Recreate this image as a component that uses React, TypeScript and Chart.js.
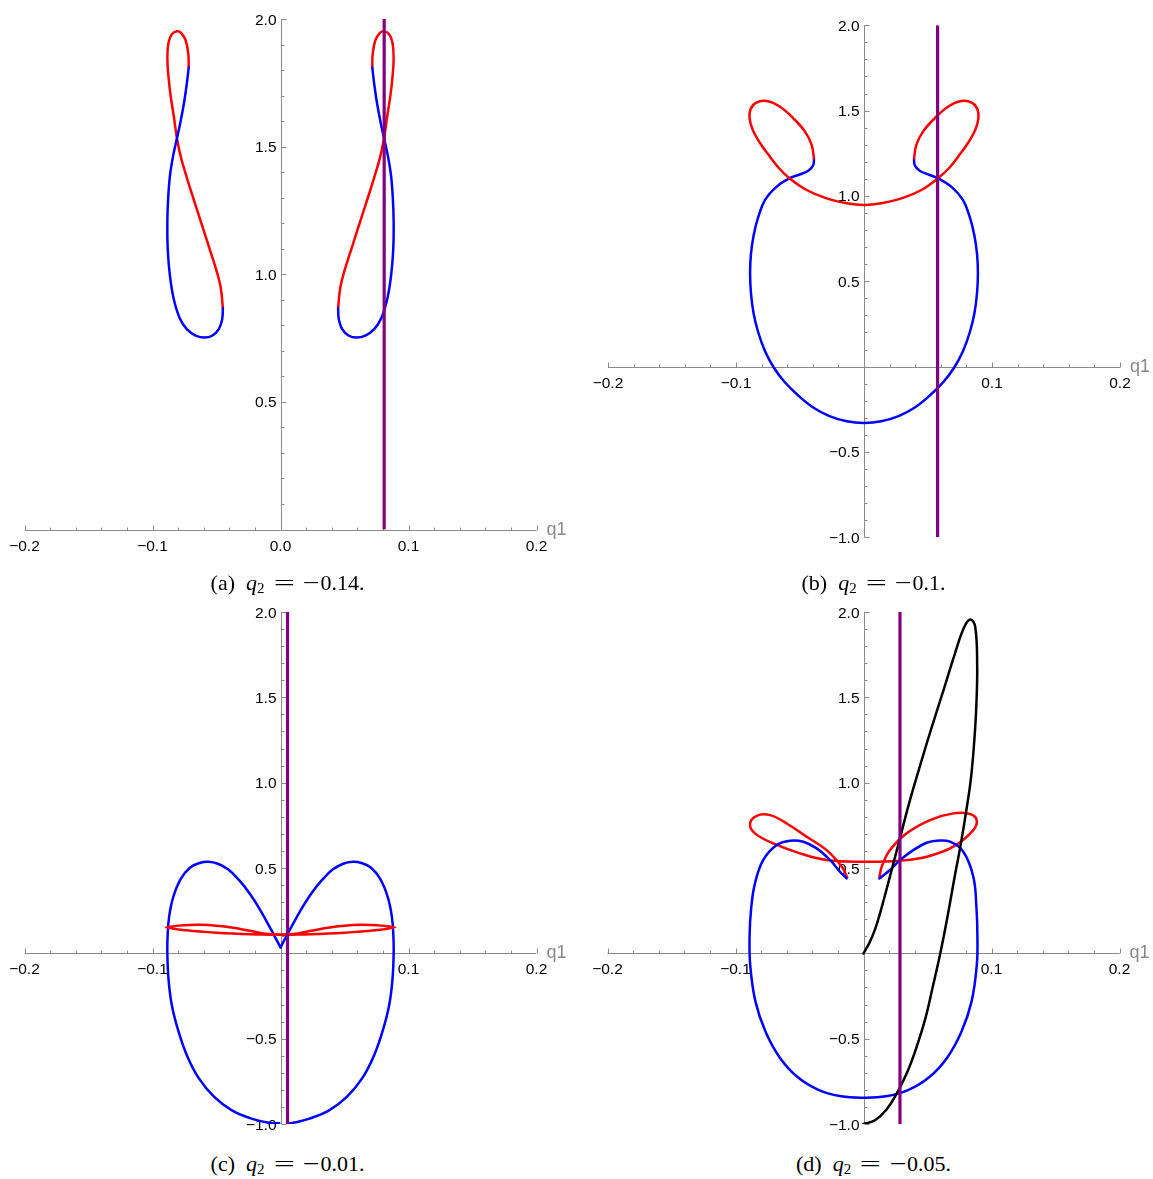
import React, { useEffect, useRef } from "react";
import { Chart, registerables } from "chart.js";

Chart.register(...registerables);

// ---------- Panel (a): q2 = -0.14 ----------
const A_RED_LEFT: number[][] = [
  [-0.0717, 1.81], [-0.072, 1.862], [-0.074, 1.915], [-0.0775, 1.945], [-0.0809, 1.952],
  [-0.0849, 1.94], [-0.0875, 1.907], [-0.0884, 1.847], [-0.0875, 1.773], [-0.0858, 1.698],
  [-0.0835, 1.623], [-0.0809, 1.533], [-0.0778, 1.458], [-0.0726, 1.369], [-0.0669, 1.279],
  [-0.0611, 1.189], [-0.0554, 1.099], [-0.0502, 1.017], [-0.0468, 0.95], [-0.045, 0.868],
];
const A_BLUE_LEFT: number[][] = [
  [-0.045, 0.868], [-0.0456, 0.823], [-0.0482, 0.785], [-0.0531, 0.76], [-0.0594, 0.752],
  [-0.0663, 0.76], [-0.0732, 0.785], [-0.0789, 0.83], [-0.0835, 0.905], [-0.0864, 0.995],
  [-0.0881, 1.099], [-0.0884, 1.204], [-0.0878, 1.294], [-0.0864, 1.384], [-0.0841, 1.458],
  [-0.0809, 1.533], [-0.0783, 1.593], [-0.0755, 1.668], [-0.0735, 1.735], [-0.0717, 1.81],
];
const A_RED_RIGHT: number[][] = [
  [0.0717, 1.81], [0.072, 1.862], [0.074, 1.915], [0.0775, 1.945], [0.0809, 1.952],
  [0.0849, 1.94], [0.0875, 1.907], [0.0884, 1.847], [0.0875, 1.773], [0.0858, 1.698],
  [0.0835, 1.623], [0.0809, 1.533], [0.0778, 1.458], [0.0726, 1.369], [0.0669, 1.279],
  [0.0611, 1.189], [0.0554, 1.099], [0.0502, 1.017], [0.0468, 0.95], [0.045, 0.868],
];
const A_BLUE_RIGHT: number[][] = [
  [0.045, 0.868], [0.0456, 0.823], [0.0482, 0.785], [0.0531, 0.76], [0.0594, 0.752],
  [0.0663, 0.76], [0.0732, 0.785], [0.0789, 0.83], [0.0835, 0.905], [0.0864, 0.995],
  [0.0881, 1.099], [0.0884, 1.204], [0.0878, 1.294], [0.0864, 1.384], [0.0841, 1.458],
  [0.0809, 1.533], [0.0783, 1.593], [0.0755, 1.668], [0.0735, 1.735], [0.0717, 1.81],
];
const A_PURPLE: number[][] = [[0.081, 0], [0.081, 2]];

// ---------- Panel (b): q2 = -0.1 ----------
const B_RED: number[][] = [
  [-0.0391, 1.221], [-0.0409, 1.299], [-0.0461, 1.377], [-0.0552, 1.455], [-0.0656, 1.523],
  [-0.076, 1.557], [-0.0845, 1.546], [-0.0888, 1.505], [-0.0893, 1.45], [-0.0868, 1.385],
  [-0.0815, 1.313], [-0.074, 1.235], [-0.0665, 1.164], [-0.0583, 1.104], [-0.0448, 1.035],
  [-0.0292, 0.986], [-0.0135, 0.957], [0, 0.947], [0.0135, 0.957], [0.0292, 0.986],
  [0.0448, 1.035], [0.0578, 1.104], [0.0665, 1.164], [0.074, 1.235], [0.0815, 1.313],
  [0.0868, 1.385], [0.0893, 1.45], [0.0888, 1.505], [0.0845, 1.546], [0.076, 1.557],
  [0.0656, 1.523], [0.0552, 1.455], [0.0461, 1.377], [0.0409, 1.299], [0.0391, 1.221],
];
const B_BLUE: number[][] = [
  [-0.0391, 1.221], [-0.0396, 1.182], [-0.0435, 1.148], [-0.0513, 1.123], [-0.0583, 1.104],
  [-0.0682, 1.055], [-0.0773, 0.977], [-0.0826, 0.877], [-0.0862, 0.77], [-0.0883, 0.66],
  [-0.089, 0.55], [-0.0883, 0.43], [-0.0862, 0.31], [-0.0826, 0.2], [-0.0773, 0.09],
  [-0.0705, -0.005], [-0.062, -0.09], [-0.052, -0.165], [-0.04, -0.238], [-0.027, -0.29],
  [-0.0135, -0.32], [0, -0.33], [0.0135, -0.32], [0.027, -0.29], [0.04, -0.238],
  [0.052, -0.165], [0.062, -0.09], [0.0705, -0.005], [0.0773, 0.09], [0.0826, 0.2],
  [0.0862, 0.31], [0.0883, 0.43], [0.089, 0.55], [0.0883, 0.66], [0.0862, 0.77],
  [0.0826, 0.877], [0.0773, 0.977], [0.0682, 1.055], [0.0578, 1.104], [0.0513, 1.123],
  [0.0435, 1.148], [0.0396, 1.182], [0.0391, 1.221],
];
const B_PURPLE: number[][] = [[0.0575, -1], [0.0575, 2]];

// ---------- Panel (c): q2 = -0.01 ----------
const C_BLUE_LEFT: number[][] = [
  [-0.001, -0.996], [-0.009, -0.993], [-0.022, -0.97], [-0.038, -0.92], [-0.052, -0.84],
  [-0.064, -0.73], [-0.073, -0.6], [-0.08, -0.45], [-0.085, -0.3], [-0.0875, -0.15],
  [-0.0884, 0.0], [-0.0882, 0.1], [-0.087, 0.215], [-0.0838, 0.33], [-0.078, 0.435],
  [-0.0705, 0.503], [-0.0625, 0.531], [-0.0565, 0.536], [-0.049, 0.525], [-0.041, 0.492],
  [-0.0325, 0.43], [-0.0245, 0.355], [-0.0165, 0.262], [-0.0085, 0.155], [0, 0.035],
];
const C_BLUE_RIGHT: number[][] = [
  [0, 0.035], [0.0085, 0.155], [0.0165, 0.262], [0.0245, 0.355], [0.0325, 0.43],
  [0.041, 0.492], [0.049, 0.525], [0.0565, 0.536], [0.0625, 0.531], [0.0705, 0.503],
  [0.078, 0.435], [0.0838, 0.33], [0.087, 0.215], [0.0882, 0.1], [0.0884, 0.0],
  [0.0875, -0.15], [0.085, -0.3], [0.08, -0.45], [0.073, -0.6], [0.064, -0.73],
  [0.052, -0.84], [0.038, -0.92], [0.022, -0.97], [0.012, -0.99], [0.0075, -0.996],
];
const C_RED_LEFT: number[][] = [
  [0.004, 0.109], [-0.003, 0.11], [-0.0136, 0.117], [-0.024, 0.132], [-0.037, 0.15],
  [-0.05, 0.162], [-0.063, 0.167], [-0.0761, 0.164], [-0.0895, 0.153], [-0.0761, 0.137],
  [-0.063, 0.128], [-0.05, 0.121], [-0.037, 0.116], [-0.024, 0.112], [-0.0136, 0.11],
  [-0.003, 0.109], [0.004, 0.109],
];
const C_RED_RIGHT: number[][] = [
  [-0.004, 0.109], [0.003, 0.11], [0.0136, 0.117], [0.024, 0.132], [0.037, 0.15],
  [0.05, 0.162], [0.063, 0.167], [0.0761, 0.164], [0.0895, 0.153], [0.0761, 0.137],
  [0.063, 0.128], [0.05, 0.121], [0.037, 0.116], [0.024, 0.112], [0.0136, 0.11],
  [0.003, 0.109], [-0.004, 0.109],
];
const C_PURPLE: number[][] = [[0.0055, -1], [0.0055, 2]];

// ---------- Panel (d): q2 = -0.05 ----------
const D_BLUE: number[][] = [
  [-0.0132, 0.439], [-0.0184, 0.478], [-0.0262, 0.547], [-0.0366, 0.615], [-0.047, 0.654],
  [-0.0574, 0.66], [-0.0678, 0.635], [-0.0783, 0.547], [-0.0848, 0.41], [-0.0878, 0.26],
  [-0.089, 0.1], [-0.0885, -0.07], [-0.0845, -0.28], [-0.0765, -0.46], [-0.0655, -0.61],
  [-0.0515, -0.725], [-0.0352, -0.8], [-0.0175, -0.838], [0, -0.846], [0.0175, -0.838],
  [0.0352, -0.8], [0.0515, -0.725], [0.0655, -0.61], [0.0765, -0.46], [0.0845, -0.28],
  [0.0885, -0.07], [0.089, 0.1], [0.0882, 0.273], [0.0858, 0.449], [0.078, 0.595],
  [0.0676, 0.654], [0.0572, 0.66], [0.0494, 0.648], [0.0389, 0.605], [0.0285, 0.546],
  [0.0207, 0.488], [0.0124, 0.439],
];
const D_RED: number[][] = [
  [-0.0127, 0.445], [-0.0169, 0.507], [-0.0288, 0.605], [-0.0444, 0.683], [-0.06, 0.761],
  [-0.073, 0.81], [-0.0835, 0.806], [-0.0887, 0.757], [-0.0848, 0.703], [-0.0705, 0.644],
  [-0.0497, 0.586], [-0.0289, 0.547], [0, 0.537], [0.0289, 0.543], [0.0494, 0.566],
  [0.0702, 0.625], [0.0858, 0.722], [0.0884, 0.781], [0.0832, 0.816], [0.0702, 0.82],
  [0.052, 0.781], [0.0337, 0.703], [0.0207, 0.605], [0.0142, 0.507], [0.0124, 0.445],
];
const D_BLACK: number[][] = [
  [0, 0], [0.0045, 0.06], [0.009, 0.14], [0.0135, 0.25], [0.021, 0.46],
  [0.0285, 0.675], [0.0363, 0.898], [0.045, 1.12], [0.0535, 1.33], [0.062, 1.53],
  [0.0715, 1.758], [0.0787, 1.912], [0.0836, 1.956], [0.0873, 1.912], [0.0888, 1.692],
  [0.0882, 1.46], [0.0865, 1.24], [0.084, 1.03], [0.0806, 0.85], [0.076, 0.64],
  [0.071, 0.44], [0.066, 0.23], [0.06, 0.0], [0.054, -0.2], [0.0484, -0.38],
  [0.041, -0.56], [0.034, -0.7], [0.026, -0.82], [0.018, -0.915], [0.009, -0.978],
  [0, -1.0],
];
const D_PURPLE: number[][] = [[0.0285, -1], [0.0285, 2]];

// ---------- Ticks ----------
const X_MAJOR = [-0.2, -0.1, 0, 0.1, 0.2];
const X_LABELS_A = ["\u22120.2", "\u22120.1", "0.0", "0.1", "0.2"];
const X_LABELS_BCD = ["\u22120.2", "\u22120.1", "", "0.1", "0.2"];
const Y_MAJOR_A = [0.5, 1.0, 1.5, 2.0];
const Y_LABELS_A = ["0.5", "1.0", "1.5", "2.0"];
const Y_MAJOR_BCD = [-1.0, -0.5, 0.5, 1.0, 1.5, 2.0];
const Y_LABELS_BCD = ["\u22121.0", "\u22120.5", "0.5", "1.0", "1.5", "2.0"];
const AXIS_NAME = "q1";

const CAPTIONS = [
  { letter: "a", value: "0.14." },
  { letter: "b", value: "0.1." },
  { letter: "c", value: "0.01." },
  { letter: "d", value: "0.05." },
];

const RED = "#ff0000";
const BLUE = "#0000ff";
const BLACK = "#000000";
const PURPLE = "#800080";
const AXIS_COLOR = "#8a8a8a";

type AxisSpec = {
  xMin: number; xMax: number; yMin: number; yMax: number;
  xLabels: string[]; yMajor: number[]; yLabels: string[];
};

function minorList(min: number, max: number, step: number, majorStep: number): number[] {
  const out: number[] = [];
  const n = Math.round((max - min) / step);
  for (let i = 0; i <= n; i++) {
    const v = min + i * step;
    const r = v / majorStep;
    if (Math.abs(r - Math.round(r)) > 1e-6) out.push(v);
  }
  return out;
}

function axesPlugin(spec: AxisSpec) {
  return {
    id: "mmaAxes",
    beforeDatasetsDraw(chart: any) {
      const ctx = chart.ctx as CanvasRenderingContext2D;
      const xs = chart.scales.x;
      const ys = chart.scales.y;
      const px = (v: number) => xs.getPixelForValue(v);
      const py = (v: number) => ys.getPixelForValue(v);
      const ax = Math.round(px(0)) + 0.5;
      const ay = Math.round(py(0)) + 0.5;
      const MAJ = 5;
      const MIN = 3;
      ctx.save();
      ctx.strokeStyle = AXIS_COLOR;
      ctx.lineWidth = 1;
      ctx.beginPath();
      ctx.moveTo(px(spec.xMin), ay);
      ctx.lineTo(px(spec.xMax), ay);
      ctx.moveTo(ax, py(spec.yMin));
      ctx.lineTo(ax, py(spec.yMax));
      for (const v of X_MAJOR) {
        const p = Math.round(px(v)) + 0.5;
        ctx.moveTo(p, ay);
        ctx.lineTo(p, ay - MAJ);
      }
      for (const v of minorList(spec.xMin, spec.xMax, 0.02, 0.1)) {
        const p = Math.round(px(v)) + 0.5;
        ctx.moveTo(p, ay);
        ctx.lineTo(p, ay - MIN);
      }
      for (const v of spec.yMajor) {
        const p = Math.round(py(v)) + 0.5;
        ctx.moveTo(ax, p);
        ctx.lineTo(ax + MAJ, p);
      }
      for (const v of minorList(spec.yMin, spec.yMax, 0.1, 0.5)) {
        const p = Math.round(py(v)) + 0.5;
        ctx.moveTo(ax, p);
        ctx.lineTo(ax + MIN, p);
      }
      ctx.stroke();

      ctx.fillStyle = "#000";
      ctx.font = '15.5px "Liberation Sans", Arial, sans-serif';
      ctx.textBaseline = "alphabetic";
      ctx.textAlign = "center";
      X_MAJOR.forEach((v, i) => {
        const l = spec.xLabels[i];
        if (l) ctx.fillText(l, px(v), ay + 20);
      });
      ctx.textAlign = "right";
      spec.yMajor.forEach((v, i) => {
        const l = spec.yLabels[i];
        if (l) ctx.fillText(l, ax - 5, py(v) + 5.5);
      });
      ctx.fillStyle = "#888888";
      ctx.textAlign = "left";
      ctx.font = '18px "Liberation Sans", Arial, sans-serif';
      ctx.fillText(AXIS_NAME, px(spec.xMax) + 10, ay + 4);
      ctx.restore();
    },
  };
}

function ds(data: number[][], color: string, width: number, order: number, tension = 0.4) {
  return {
    data: data.map(([x, y]) => ({ x, y })),
    showLine: true,
    borderColor: color,
    backgroundColor: color,
    borderWidth: width,
    pointRadius: 0,
    pointHoverRadius: 0,
    tension,
    fill: false,
    order,
    borderJoinStyle: "round" as const,
    borderCapStyle: "round" as const,
  };
}

function purple(data: number[][]) {
  return { ...ds(data, PURPLE, 3.2, 0, 0), borderCapStyle: "butt" as const };
}

type PanelSpec = {
  left: number; top: number; w: number; h: number;
  pad: { left: number; right: number; top: number; bottom: number };
  axes: AxisSpec;
  datasets: any[];
};

const PANELS: PanelSpec[] = [
  {
    left: 0, top: 0, w: 576, h: 560,
    pad: { left: 24.5, right: 39.5, top: 19, bottom: 30.5 },
    axes: { xMin: -0.2, xMax: 0.2, yMin: 0, yMax: 2, xLabels: X_LABELS_A, yMajor: Y_MAJOR_A, yLabels: Y_LABELS_A },
    datasets: [
      purple(A_PURPLE),
      ds(A_RED_LEFT, RED, 2.5, 2),
      ds(A_BLUE_LEFT, BLUE, 2.5, 1),
      ds(A_RED_RIGHT, RED, 2.5, 2),
      ds(A_BLUE_RIGHT, BLUE, 2.5, 1),
    ],
  },
  {
    left: 576, top: 0, w: 577, h: 560,
    pad: { left: 32, right: 33, top: 25.3, bottom: 22.7 },
    axes: { xMin: -0.2, xMax: 0.2, yMin: -1, yMax: 2, xLabels: X_LABELS_BCD, yMajor: Y_MAJOR_BCD, yLabels: Y_LABELS_BCD },
    datasets: [purple(B_PURPLE), ds(B_RED, RED, 2.5, 1), ds(B_BLUE, BLUE, 2.5, 2)],
  },
  {
    left: 0, top: 590, w: 576, h: 560,
    pad: { left: 24.5, right: 39.5, top: 22, bottom: 26 },
    axes: { xMin: -0.2, xMax: 0.2, yMin: -1, yMax: 2, xLabels: X_LABELS_BCD, yMajor: Y_MAJOR_BCD, yLabels: Y_LABELS_BCD },
    datasets: [
      purple(C_PURPLE),
      ds(C_RED_LEFT, RED, 2.5, 1, 0.3),
      ds(C_RED_RIGHT, RED, 2.5, 1, 0.3),
      ds(C_BLUE_LEFT, BLUE, 2.5, 2),
      ds(C_BLUE_RIGHT, BLUE, 2.5, 2),
    ],
  },
  {
    left: 576, top: 590, w: 577, h: 560,
    pad: { left: 31.5, right: 33.5, top: 22, bottom: 26 },
    axes: { xMin: -0.2, xMax: 0.2, yMin: -1, yMax: 2, xLabels: X_LABELS_BCD, yMajor: Y_MAJOR_BCD, yLabels: Y_LABELS_BCD },
    datasets: [
      purple(D_PURPLE),
      ds(D_BLACK, BLACK, 2.5, 1),
      ds(D_BLUE, BLUE, 2.5, 2),
      ds(D_RED, RED, 2.5, 3),
    ],
  },
];

function Panel({ spec }: { spec: PanelSpec }) {
  const ref = useRef<HTMLCanvasElement | null>(null);
  useEffect(() => {
    if (!ref.current) return;
    const a = spec.axes;
    const chart = new Chart(ref.current, {
      type: "scatter",
      data: { datasets: spec.datasets },
      options: {
        animation: false,
        responsive: false,
        devicePixelRatio: 1,
        layout: { padding: spec.pad },
        events: [],
        scales: {
          x: { type: "linear", min: a.xMin, max: a.xMax, display: false },
          y: { type: "linear", min: a.yMin, max: a.yMax, display: false },
        },
        plugins: { legend: { display: false }, tooltip: { enabled: false } },
      },
      plugins: [axesPlugin(a)],
    } as any);
    return () => chart.destroy();
  }, [spec]);
  return (
    <canvas
      ref={ref}
      width={spec.w}
      height={spec.h}
      style={{ position: "absolute", left: spec.left, top: spec.top, width: spec.w, height: spec.h }}
    />
  );
}

function Caption({ letter, value, cx, baseline }: { letter: string; value: string; cx: number; baseline: number }) {
  return (
    <div
      style={{
        position: "absolute",
        left: cx - 200,
        width: 400,
        top: baseline - 18.4,
        textAlign: "center",
        fontFamily: '"Liberation Serif", "Times New Roman", serif',
        fontSize: 22,
        lineHeight: "22px",
        whiteSpace: "nowrap",
        color: "#000",
      }}
    >
      <span>({letter})</span>
      <span style={{ marginLeft: 11, fontStyle: "italic" }}>q</span>
      <span style={{ fontSize: 15, position: "relative", top: 3, marginLeft: 0 }}>2</span>
      <span style={{ display: "inline-block", transform: "scaleX(1.7)", marginLeft: 13, marginRight: 15 }}>=</span>
      <span style={{ display: "inline-block", transform: "scaleX(1.35)", marginRight: 3 }}>{"\u2212"}</span>
      <span>{value}</span>
    </div>
  );
}

const CAPTION_POS = [
  { cx: 287.5, baseline: 590 },
  { cx: 873.5, baseline: 590 },
  { cx: 287.5, baseline: 1171 },
  { cx: 873.5, baseline: 1171 },
];

export default function App() {
  return (
    <div style={{ position: "absolute", left: 0, top: 0, width: 1153, height: 1179, background: "#fff", overflow: "hidden" }}>
      {PANELS.map((p, i) => (
        <Panel key={i} spec={p} />
      ))}
      {CAPTIONS.map((c, i) => (
        <Caption key={i} letter={c.letter} value={c.value} cx={CAPTION_POS[i].cx} baseline={CAPTION_POS[i].baseline} />
      ))}
    </div>
  );
}
